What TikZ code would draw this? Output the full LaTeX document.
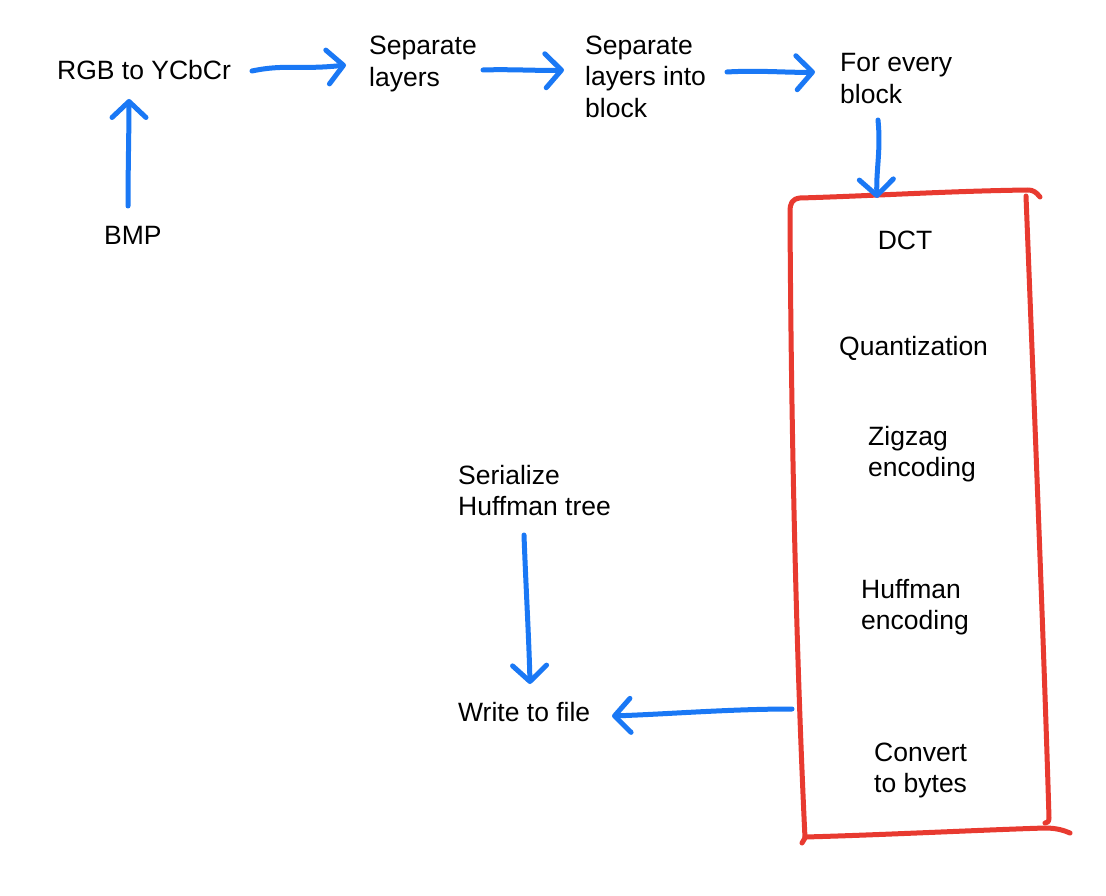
\documentclass[tikz,border=0pt]{standalone}
\usepackage{fontspec}
\setmainfont{Liberation Sans}
\usetikzlibrary{arrows.meta}
\definecolor{penblue}{RGB}{26,120,245}
\definecolor{penred}{RGB}{232,58,48}
\tikzset{
  lbl/.style={inner sep=0pt, align=left, font=\fontsize{26.5}{31.5}\selectfont, text=black},
  barrow/.style={draw=penblue, line width=5pt, line cap=round, line join=round,
    -{Straight Barb[length=16pt,width=34pt,round]}},
  redline/.style={draw=penred, line width=5pt, line cap=round, line join=round},
}
\begin{document}
\begin{tikzpicture}[x=1pt,y=-1pt]
\useasboundingbox (0,0) rectangle (1106,896);
\fill[white] (0,0) rectangle (1106,896);
% texts (base anchor = baseline of the last line)
\node[lbl, anchor=base west] (rgb) at (57,80) {RGB to YCbCr};
\node[lbl, anchor=base west] (sep1) at (369,86.5) {Separate\\layers};
\node[lbl, anchor=base west] (sep2) at (585,117.5) {Separate\\layers into\\block};
\node[lbl, anchor=base west] (forev) at (840,103.5) {For every\\block};
\node[lbl, anchor=base west] (bmp) at (104,245) {BMP};
\node[lbl, anchor=base] (dct) at (905,250) {DCT};
\node[lbl, anchor=base west] (quant) at (839,355) {Quantization};
\node[lbl, anchor=base west] (zig) at (868,476.5) {Zigzag\\encoding};
\node[lbl, anchor=base west] (ser) at (458,515.5) {Serialize\\Huffman tree};
\node[lbl, anchor=base west] (huff) at (861,629.5) {Huffman\\encoding};
\node[lbl, anchor=base west] (write) at (458,721) {Write to file};
\node[lbl, anchor=base west] (conv) at (874,792.5) {Convert\\to bytes};
% red hand-drawn box
\draw[redline] (1040,197) .. controls (1036,192) and (1033,190) .. (1028,190)
  .. controls (950,191) and (870,196) .. (800,198)
  .. controls (792,199) and (790,203) .. (790,212)
  .. controls (791,420) and (796,650) .. (805,838)
  -- (802,843);
\draw[redline] (1026,196) .. controls (1034,400) and (1044,650) .. (1049,818)
  .. controls (1049,822) and (1047,823) .. (1045,823);
\draw[redline] (805,837) .. controls (880,835) and (980,830) .. (1045,828)
  .. controls (1058,828) and (1065,831) .. (1070,833);
% connector endpoints
\coordinate (bmpT) at (128,206);
\coordinate (rgbB) at (129,99);
\coordinate (rgbR) at (252,71);
\coordinate (sep1L) at (346,65);
\coordinate (sep1R) at (483,70);
\coordinate (sep2L) at (564,70);
\coordinate (sep2R) at (727,72);
\coordinate (forL) at (815,72);
\coordinate (forB) at (878,120);
\coordinate (boxT) at (877,198);
\coordinate (serB) at (524,535);
\coordinate (writeT) at (530,684);
\coordinate (boxL) at (792,709);
\coordinate (writeR) at (612,716);
% arrows
\draw[barrow] (bmpT) .. controls (128,170) and (129,130) .. (rgbB);
\draw[barrow] (rgbR) .. controls (285,64) and (300,70) .. (sep1L);
\draw[barrow] (sep1R) .. controls (510,69) and (540,71) .. (sep2L);
\draw[barrow] (sep2R) .. controls (760,70) and (790,73) .. (forL);
\draw[barrow] (forB) .. controls (881,150) and (876,170) .. (boxT);
\draw[barrow] (serB) .. controls (526,590) and (529,640) .. (writeT);
\draw[barrow] (boxL) .. controls (730,709) and (670,714) .. (writeR);
\end{tikzpicture}
\end{document}
